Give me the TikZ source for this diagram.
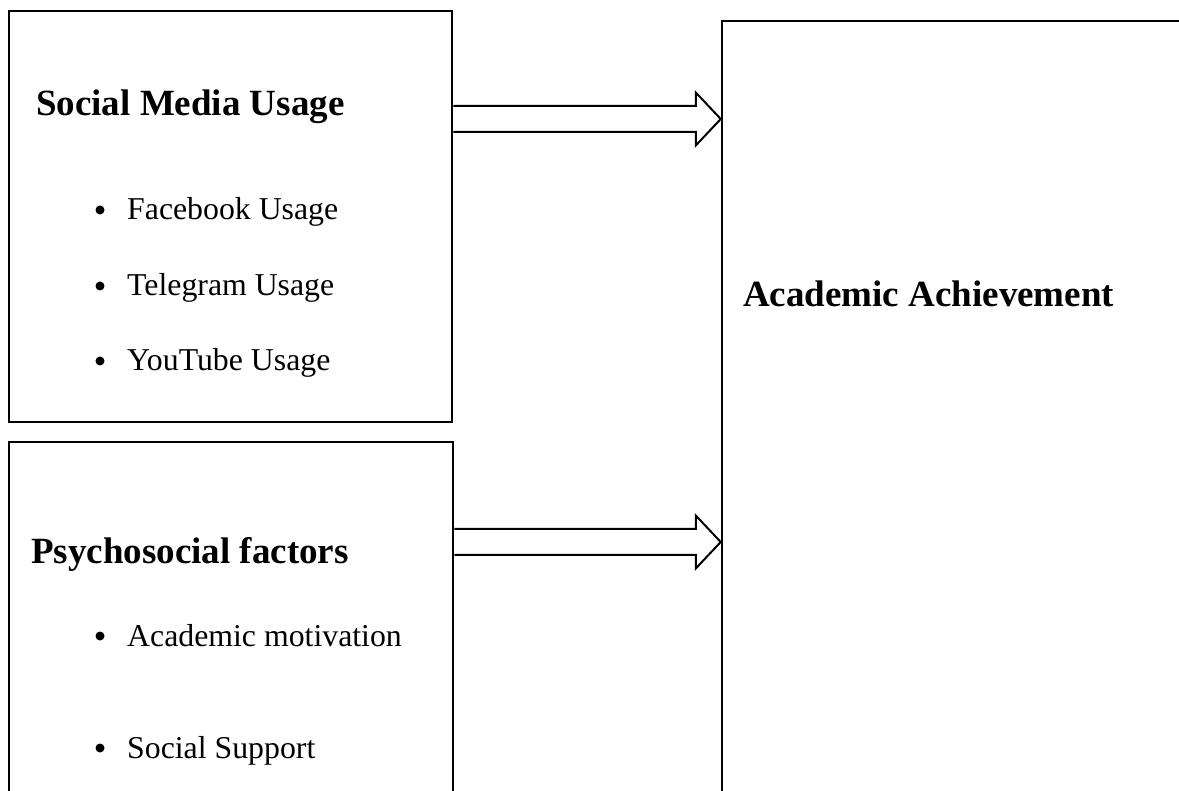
\documentclass[tikz,border=0pt]{standalone}
\usepackage{fontspec}
\setmainfont{Liberation Serif}
\usetikzlibrary{calc}

\tikzset{
  box/.style={draw, line width=2.5pt, inner sep=0pt},
  head/.style={font=\fontsize{37}{44}\selectfont\bfseries, anchor=base west, inner sep=0pt},
  item/.style={font=\fontsize{31.8}{38}\selectfont, anchor=base west, inner sep=0pt},
  dot/.style={circle, fill, inner sep=0pt, minimum size=9pt},
  blockarrow/.style={draw, line width=2pt, line join=miter, fill=white}
}

\begin{document}
\begin{tikzpicture}[x=1pt,y=-1pt]
  \useasboundingbox (0,0) rectangle (1179,791);
  % boxes: the two lower ones run off the page
  \node[box, minimum width=443pt, minimum height=411pt] (sm) at (230.5,216.5) {};
  \node[box, minimum width=444pt, minimum height=370pt] (ps) at (231,627) {};
  \node[box, minimum width=480pt, minimum height=800pt] (aa) at (962,421) {};

  % headings
  \node[head] (smt) at (36,116) {Social Media Usage};
  \node[head] (pst) at (31,563) {Psychosocial factors};
  \node[head] (aat) at (743,307) {Academic Achievement};

  % items
  \node[item] (fb) at (127,220) {Facebook Usage};
  \node[item] (tg) at (127,296) {Telegram Usage};
  \node[item] (yt) at (127,371) {YouTube Usage};
  \node[item] (am) at (127,646) {Academic motivation};
  \node[item] (ss) at (127,758) {Social Support};
  \foreach \n in {fb,tg,yt,am,ss}
    \node[dot] (\n-dot) at ($(\n.base west)+(-27,-10)$) {};

  % block arrows, shaft 26 high, head 53 high and 25 long
  \coordinate (a1s) at ([yshift=97.5pt]sm.east);
  \coordinate (a1e) at (a1s -| aa.west);
  \draw[blockarrow] ($(a1s)+(0,-13)$) -- ($(a1e)+(-25,-13)$) -- ($(a1e)+(-25,-26.5)$)
    -- (a1e) -- ($(a1e)+(-25,26.5)$) -- ($(a1e)+(-25,13)$) -- ($(a1s)+(0,13)$);
  \coordinate (a2s) at ([yshift=85pt]ps.east);
  \coordinate (a2e) at (a2s -| aa.west);
  \draw[blockarrow] ($(a2s)+(0,-13)$) -- ($(a2e)+(-25,-13)$) -- ($(a2e)+(-25,-26.5)$)
    -- (a2e) -- ($(a2e)+(-25,26.5)$) -- ($(a2e)+(-25,13)$) -- ($(a2s)+(0,13)$);
\end{tikzpicture}
\end{document}
